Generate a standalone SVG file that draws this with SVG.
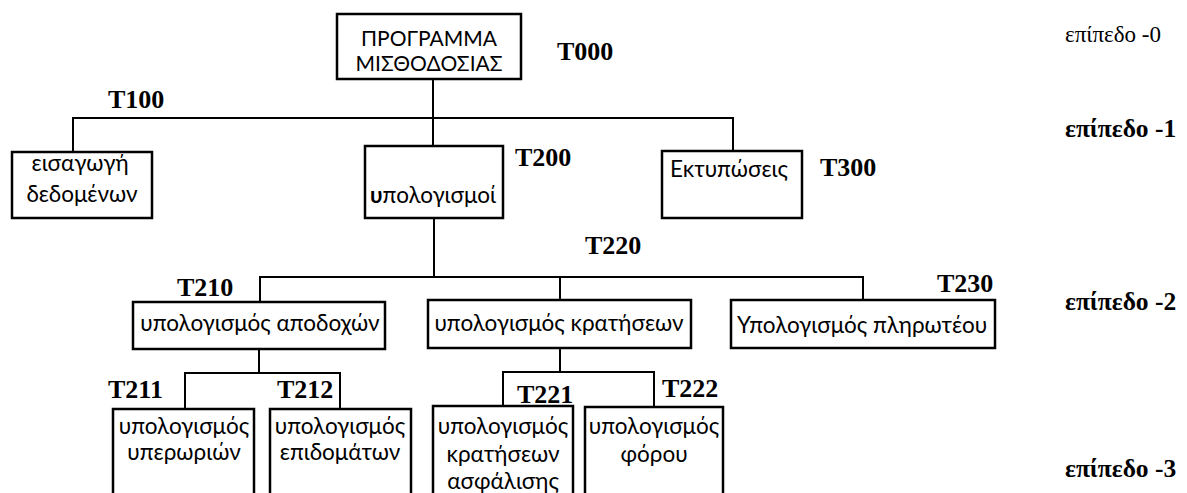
<svg xmlns="http://www.w3.org/2000/svg" width="1187" height="493" viewBox="0 0 1187 493">
<style>
.box{fill:#fff;stroke:#000;stroke-width:2.5}
.c{fill:none;stroke:#000;stroke-width:2}
.t{font-family:Lato,"Noto Sans","Open Sans",sans-serif;font-size:22.5px;fill:#000;text-anchor:middle}
.cap{font-size:21px}
.lbl{font-family:"Liberation Serif","Times New Roman",serif;font-weight:bold;font-size:26px;fill:#000}
.lv{font-family:"Liberation Serif","Times New Roman",serif;font-size:23px;fill:#000}
.lvb{font-family:"Liberation Serif","Times New Roman",serif;font-weight:bold;font-size:25.5px;fill:#000}
</style>
<rect width="1187" height="493" fill="#fff"/>
<g id="connectors">
<path class="c" d="M433 79V146"/>
<path class="c" d="M73 152V118H733V151"/>
<path class="c" d="M434 218V277"/>
<path class="c" d="M260 302V277H863V300"/>
<path class="c" d="M560 277V300"/>
<path class="c" d="M259 349V373"/>
<path class="c" d="M185 409V373H340V409"/>
<path class="c" d="M560 348V372"/>
<path class="c" d="M503 406V372H654V407"/>
</g>
<g id="n-t000"><rect class="box" x="337" y="14" width="184" height="65"/><text class="t cap" x="429" y="46">ΠΡΟΓΡΑΜΜΑ</text><text class="t cap" x="429" y="71">ΜΙΣΘΟΔΟΣΙΑΣ</text><text class="lbl" x="557" y="60">T000</text></g>
<g id="n-t100"><rect class="box" x="12" y="152" width="140" height="66"/><text class="t" x="80" y="171">εισαγωγή</text><text class="t" x="82" y="202">δεδομένων</text><text class="lbl" x="108" y="108">T100</text></g>
<g id="n-t200"><rect class="box" x="365" y="146" width="138" height="72"/><text class="t" x="433" y="203"><tspan font-weight="bold">υ</tspan>πολογισμοί</text><text class="lbl" x="515" y="166">T200</text></g>
<g id="n-t300"><rect class="box" x="662" y="151" width="140" height="67"/><text class="t" x="729" y="177">Εκτυπώσεις</text><text class="lbl" x="820" y="176">T300</text></g>
<g id="n-t210"><rect class="box" x="133" y="302" width="252" height="47"/><text class="t" x="260" y="331">υπολογισμός αποδοχών</text><text class="lbl" x="177" y="296">T210</text></g>
<g id="n-t220"><rect class="box" x="428" y="300" width="263" height="48"/><text class="t" x="559" y="331">υπολογισμός κρατήσεων</text><text class="lbl" x="585" y="254">T220</text></g>
<g id="n-t230"><rect class="box" x="731" y="300" width="264" height="48"/><text class="t" x="862" y="333">Υπολογισμός πληρωτέου</text><text class="lbl" x="937" y="292">T230</text></g>
<g id="n-t211"><rect class="box" x="113" y="409" width="141" height="95"/><text class="t" x="184" y="434">υπολογισμός</text><text class="t" x="184" y="460">υπερωριών</text><text class="lbl" x="108" y="398">T211</text></g>
<g id="n-t212"><rect class="box" x="270" y="409" width="141" height="95"/><text class="t" x="340" y="434">υπολογισμός</text><text class="t" x="340" y="460">επιδομάτων</text><text class="lbl" x="277" y="398">T212</text></g>
<g id="n-t221"><rect class="box" x="433" y="406" width="140" height="98"/><text class="t" x="503" y="434">υπολογισμός</text><text class="t" x="503" y="462">κρατήσεων</text><text class="t" x="503" y="489">ασφάλισης</text><text class="lbl" x="517" y="403">T221</text></g>
<g id="n-t222"><rect class="box" x="585" y="407" width="138" height="97"/><text class="t" x="654" y="434">υπολογισμός</text><text class="t" x="654" y="462">φόρου</text><text class="lbl" x="662" y="397">T222</text></g>
<g id="levels">
<text class="lv" x="1065" y="42">επίπεδο -0</text>
<text class="lvb" x="1065" y="137">επίπεδο -1</text>
<text class="lvb" x="1065" y="310">επίπεδο -2</text>
<text class="lvb" x="1065" y="477">επίπεδο -3</text>
</g>
</svg>
